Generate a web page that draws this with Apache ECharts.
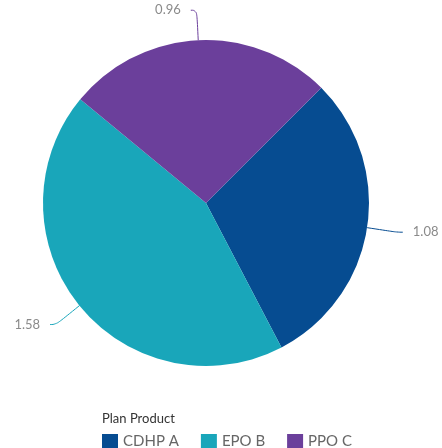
<!DOCTYPE html>
<html><head><meta charset="utf-8">
<script src="https://cdn.jsdelivr.net/npm/echarts@6/dist/echarts.min.js"></script>
<style>html,body{margin:0;padding:0;background:#fff}#c{width:442px;height:448px}</style>
</head><body><div id="c"></div>
<script>
const categories = ["CDHP A", "EPO B", "PPO C"];
const values = [1.08, 1.58, 0.96];
const colors = ["#064c91", "#19a6ba", "#6b3f9b"];
const legendTitle = "Plan Product";

const chart = echarts.init(document.getElementById('c'));
chart.setOption({
  animation: false,
  color: colors,
  title: {
    text: legendTitle, left: 97, top: 407,
    textStyle: {fontFamily: 'Lato', fontSize: 13, fontWeight: 'normal', color: '#333'}
  },
  legend: {
    left: 97, top: 429, itemWidth: 16, itemHeight: 15, itemGap: 22,
    icon: 'rect',
    textStyle: {fontFamily: 'Lato', fontSize: 15, color: '#666'},
    data: categories
  },
  series: [{
    type: 'pie',
    center: [206, 203],
    radius: [0, 163],
    startAngle: 45,
    clockwise: true,
    data: categories.map((c, i) => ({name: c, value: values[i]})),
    label: {
      show: true,
      formatter: p => p.value.toFixed(2),
      overflow: 'none',
      fontFamily: 'Lato', fontSize: 13, color: '#8a8a8a', distanceToLabelLine: 10
    },
    labelLine: {show: true, length: 30, length2: 6, smooth: 0.5, lineStyle: {width: 1}},
    emphasis: {disabled: true}
  }]
});
</script></body></html>
